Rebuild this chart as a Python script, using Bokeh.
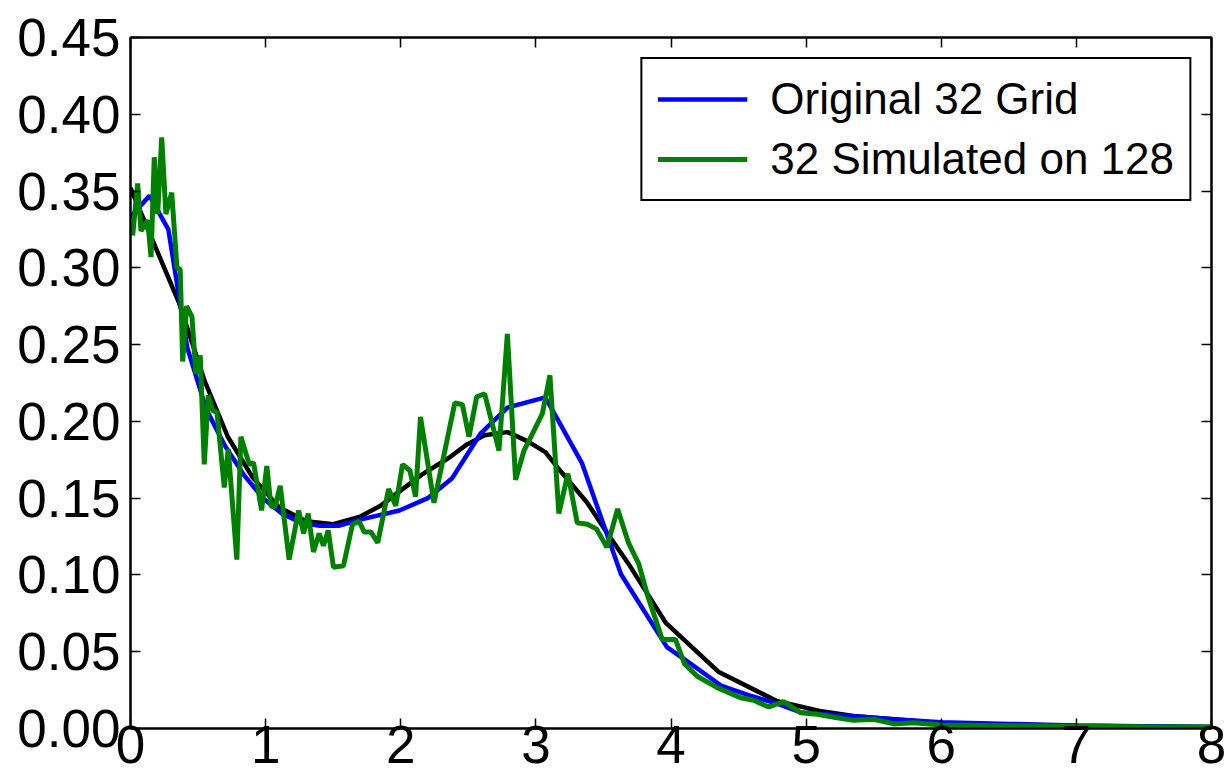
from bokeh.plotting import figure
from bokeh.models import (LinearAxis, FixedTicker, NumeralTickFormatter, Legend, LegendItem, Range1d)
from bokeh.embed import file_html
from bokeh.resources import INLINE

# --- data ---
x_ticks = [0, 1, 2, 3, 4, 5, 6, 7, 8]
y_ticks = [0.00, 0.05, 0.10, 0.15, 0.20, 0.25, 0.30, 0.35, 0.40, 0.45]

black_x = [0.0, 0.36, 0.55, 0.72, 0.90, 1.10, 1.30, 1.50, 1.70, 1.85, 2.15, 2.36, 2.49,
           2.62, 2.79, 2.94, 3.07, 3.16, 3.38, 3.53, 3.68, 3.96, 4.35, 4.78, 5.10, 5.35,
           5.65, 6.0, 6.5, 7.0, 7.5, 8.0]
black_y = [0.352, 0.277, 0.226, 0.190, 0.164, 0.144, 0.135, 0.133, 0.138, 0.145, 0.165,
           0.1765, 0.185, 0.191, 0.193, 0.187, 0.180, 0.170, 0.147, 0.127, 0.108, 0.069,
           0.037, 0.018, 0.0114, 0.0081, 0.006, 0.0035, 0.0025, 0.0018, 0.0013, 0.001]

blue_x = [0.0, 0.14, 0.28, 0.42, 0.56, 0.70, 0.84, 0.98, 1.12, 1.26, 1.40, 1.54, 1.70,
          1.99, 2.20, 2.38, 2.59, 2.79, 3.07, 3.34, 3.63, 3.97, 4.10, 4.37, 4.60, 4.79,
          4.96, 5.35, 5.65, 6.0, 6.5, 7.0, 7.5, 8.0]
blue_y = [0.333, 0.347, 0.325, 0.248, 0.208, 0.184, 0.165, 0.150, 0.140, 0.134, 0.132,
          0.132, 0.136, 0.142, 0.150, 0.163, 0.192, 0.209, 0.2156, 0.173, 0.1005, 0.053,
          0.045, 0.028, 0.021, 0.016, 0.0105, 0.008, 0.006, 0.004, 0.003, 0.002, 0.0015,
          0.001]

green_x = [0.016, 0.053, 0.078, 0.127, 0.152, 0.176, 0.201, 0.231, 0.262, 0.305, 0.344,
           0.368, 0.386, 0.415, 0.455, 0.484, 0.516, 0.546, 0.575, 0.608, 0.640, 0.694,
           0.723, 0.787, 0.817, 0.879, 0.911, 0.970, 1.009, 1.039, 1.068, 1.108, 1.174,
           1.244, 1.281, 1.315, 1.354, 1.396, 1.428, 1.463, 1.502, 1.576, 1.643, 1.692,
           1.729, 1.778, 1.830, 1.910, 1.963, 2.013, 2.068, 2.110, 2.146, 2.246, 2.400,
           2.456, 2.505, 2.562, 2.621, 2.727, 2.789, 2.850, 2.912, 2.986, 3.048, 3.104,
           3.170, 3.237, 3.306, 3.380, 3.448, 3.526, 3.605, 3.685, 3.762, 3.824, 3.935,
           4.033, 4.100, 4.194, 4.342, 4.514, 4.612, 4.723, 4.834, 4.958, 5.081, 5.229,
           5.352, 5.500, 5.648, 5.795, 5.993, 6.5, 7.0, 7.5, 8.0]
green_y = [0.321, 0.355, 0.324, 0.331, 0.307, 0.372, 0.335, 0.385, 0.335, 0.349, 0.300,
           0.299, 0.239, 0.275, 0.268, 0.231, 0.243, 0.172, 0.217, 0.207, 0.206, 0.157,
           0.182, 0.110, 0.190, 0.172, 0.173, 0.142, 0.171, 0.145, 0.144, 0.158, 0.110,
           0.142, 0.127, 0.140, 0.115, 0.127, 0.119, 0.129, 0.105, 0.106, 0.133, 0.135,
           0.128, 0.128, 0.121, 0.156, 0.145, 0.172, 0.168, 0.151, 0.203, 0.147, 0.212,
           0.211, 0.190, 0.216, 0.218, 0.181, 0.257, 0.162, 0.181, 0.194, 0.205, 0.230,
           0.140, 0.166, 0.134, 0.133, 0.130, 0.118, 0.143, 0.121, 0.107, 0.0875, 0.058,
           0.058, 0.042, 0.034, 0.0266, 0.020, 0.0184, 0.014, 0.0175, 0.0103, 0.0093, 0.007,
           0.0053, 0.006, 0.003, 0.0038, 0.0023, 0.0018, 0.0015, 0.0012, 0.001]

labels = ["Original 32 Grid", "32 Simulated on 128"]

FONT = "Liberation Sans"

p = figure(width=1230, height=784, output_backend="svg", toolbar_location=None,
           x_range=Range1d(0, 8), y_range=Range1d(0, 0.45),
           min_border_left=130, min_border_right=19, min_border_top=37, min_border_bottom=56)
p.xgrid.visible = False
p.ygrid.visible = False
p.outline_line_color = "black"
p.outline_line_width = 2
p.outline_line_alpha = 1

r_black = p.line(black_x, black_y, line_color="black", line_width=4.5)
r_blue = p.line(blue_x, blue_y, line_color="#0000ff", line_width=4.5)
r_green = p.line(green_x, green_y, line_color="#008000", line_width=5)

def style_axis(ax, show_labels, standoff=10):
    ax.axis_line_color = "black"
    ax.axis_line_width = 2
    ax.major_tick_in = 10
    ax.major_tick_out = 0
    ax.major_tick_line_width = 1.5
    ax.major_tick_line_color = "black"
    ax.minor_tick_line_color = None
    ax.major_label_text_font = FONT
    ax.major_label_standoff = standoff
    if show_labels:
        ax.major_label_text_color = "black"
        ax.major_label_text_font_size = "53px"
    else:
        ax.major_label_text_color = None
        ax.major_label_text_font_size = "1px"
        ax.major_label_standoff = 0

xa = p.xaxis[0]
ya = p.yaxis[0]
xa.ticker = FixedTicker(ticks=x_ticks)
ya.ticker = FixedTicker(ticks=y_ticks)
ya.formatter = NumeralTickFormatter(format="0.00")
style_axis(xa, True, standoff=-3)
style_axis(ya, True, standoff=10)

top = LinearAxis(ticker=FixedTicker(ticks=x_ticks))
right = LinearAxis(ticker=FixedTicker(ticks=y_ticks))
style_axis(top, False)
style_axis(right, False)
p.add_layout(top, "above")
p.add_layout(right, "right")

legend = Legend(items=[LegendItem(label=labels[0], renderers=[r_blue]),
                       LegendItem(label=labels[1], renderers=[r_green])],
                location="top_right")
legend.label_text_font = FONT
legend.label_text_font_size = "44px"
legend.label_text_color = "black"
legend.glyph_width = 90
legend.glyph_height = 40
legend.label_standoff = 23
legend.padding = 15
legend.spacing = 10
legend.margin = 20
legend.border_line_color = "black"
legend.border_line_width = 2
legend.border_line_alpha = 1
legend.background_fill_color = "white"
legend.background_fill_alpha = 1
p.add_layout(legend)

open("out.html", "w").write(file_html(p, INLINE))
